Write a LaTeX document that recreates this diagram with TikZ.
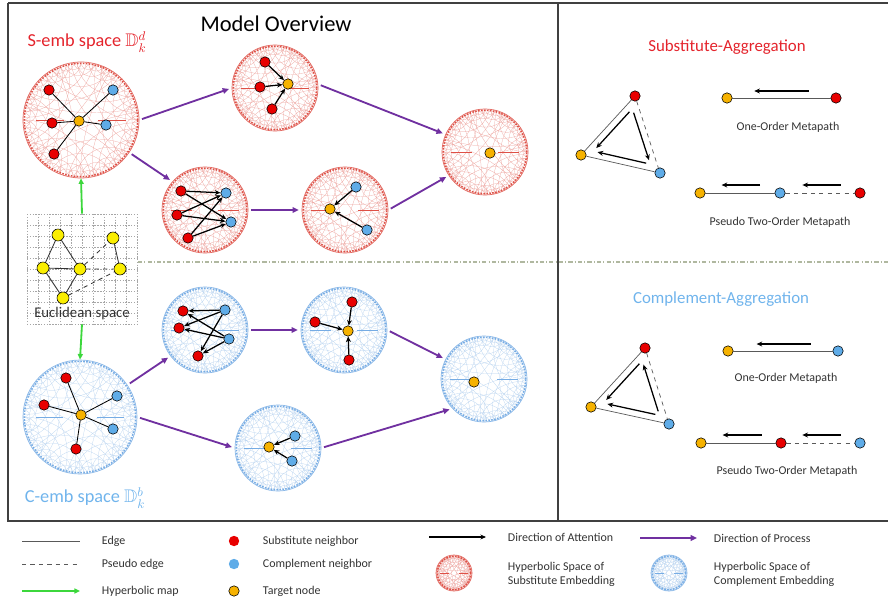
\documentclass[tikz,border=0pt]{standalone}
\usepackage{fontspec}
\usepackage{amssymb}
\usetikzlibrary{arrows.meta, calc}
\setmainfont{Carlito}

\definecolor{subred}{RGB}{232,0,0}
\definecolor{comblue}{RGB}{95,172,232}
\definecolor{tgtorange}{RGB}{246,178,0}
\definecolor{procpurple}{RGB}{112,48,160}
\definecolor{mapgreen}{RGB}{60,215,60}
\definecolor{sdisk}{RGB}{222,80,70}
\definecolor{cdisk}{RGB}{118,172,228}
\definecolor{stitle}{RGB}{228,36,44}
\definecolor{ctitle}{RGB}{112,180,236}
\definecolor{euyellow}{RGB}{250,238,0}
\definecolor{sepgray}{RGB}{176,184,160}

% one geodesic of the Poincare disk: radius, start angle, span
\newcommand{\geod}[3]{%
  \pgfmathsetmacro\hgM{#2+#3/2}%
  \pgfmathsetmacro\hgR{#1*tan(#3/2)}%
  \pgfmathsetmacro\hgS{\hgM+270-#3/2}%
  \pgfmathsetmacro\hgE{\hgS-180+#3}%
  \draw (#2:#1) arc[start angle=\hgS, end angle=\hgE, radius=\hgR];}

% hyperbolic disk: name, centre, radius, colour
\newcommand{\hypdisk}[4]{%
  \begin{scope}[shift={#2}, y=0.025cm, color=#4!55, line width=0.15pt]
    \fill[white] (0,0) circle[radius=#3];
    \foreach \k in {0,...,6}{\geod{#3}{\k*360/7+12}{150}}
    \foreach \k in {0,...,13}{\geod{#3}{\k*360/14}{100}\geod{#3}{\k*360/14+8}{60}}
    \foreach \k in {0,...,27}{\geod{#3}{\k*360/28}{30}}
    \foreach \k in {0,...,47}{\geod{#3}{\k*7.5}{15}}
    \draw[#4, densely dotted, line width=1.1pt] (0,0) circle[radius=#3-1.3];
    \draw[#4!85, line width=0.5pt] (0,0) circle[radius=#3];
    \draw[#4, line width=0.7pt] (-0.78*#3,0) -- (-0.3*#3,0) (0.3*#3,0) -- (0.78*#3,0);
  \end{scope}
  \node[circle, inner sep=0pt, minimum size=#3*0.05cm] (#1) at #2 {};}

\begin{document}
\begin{tikzpicture}[x=0.025cm, y=-0.025cm,
    sub/.style={circle, draw=black, fill=subred, line width=0.4pt, inner sep=0pt, minimum size=0.26cm},
    com/.style={sub, fill=comblue},
    tgt/.style={sub, fill=tgtorange},
    eu/.style={sub, fill=euyellow, minimum size=0.3cm},
    pline/.style={draw=black!65, line width=0.5pt},
    pdash/.style={pline, dashed},
    att/.style={-{Stealth[length=4pt, width=3.5pt]}, line width=0.9pt},
    proc/.style={-{Triangle[length=4.5pt, width=4pt]}, draw=procpurple, line width=1.3pt, shorten <=2pt, shorten >=2pt},
    hmap/.style={-{Triangle[length=4pt, width=3.5pt]}, draw=mapgreen, line width=1.3pt},
    lbl/.style={font=\fontsize{8.5}{10}\selectfont, text=black!80},
    legtxt/.style={lbl, anchor=west, align=left},
    gridln/.style={draw=black!35, line width=0.3pt, dash pattern=on 1pt off 1pt}
  ]
\useasboundingbox (0,0) rectangle (888,604);

% frame
\draw[black!75, line width=0.8pt] (8,3) -- (888,3) (8,3) -- (8,521) -- (888,521) (558,3) -- (558,521);
\draw[sepgray, line width=0.9pt, dash pattern=on 3pt off 1.5pt on 0.8pt off 1.5pt] (138,262) -- (888,262);

\node[font=\fontsize{16}{19}\selectfont] (title) at (276,24) {Model Overview};
\node[font=\fontsize{13}{15}\selectfont, text=stitle] (slabel) at (87,42) {S-emb space $\mathbb{D}_k^d$};
\node[font=\fontsize{13}{15}\selectfont, text=ctitle] (clabel) at (85,498) {C-emb space $\mathbb{D}_k^b$};

% substitute side
\hypdisk{S1}{(81,120)}{58}{sdisk}
\hypdisk{S2}{(275,88)}{43}{sdisk}
\hypdisk{S3}{(485,152)}{43}{sdisk}
\hypdisk{S4}{(205,210)}{43}{sdisk}
\hypdisk{S5}{(345,210)}{43}{sdisk}

\node[sub] (s1a) at (49,90) {};
\node[com] (s1b) at (113,90) {};
\node[sub] (s1c) at (52,123) {};
\node[tgt] (s1t) at (79,121) {};
\node[com] (s1d) at (106,125) {};
\node[sub] (s1e) at (54,154) {};
\foreach \n in {s1a,s1b,s1c,s1d,s1e} \draw[black, line width=0.6pt] (s1t) -- (\n);

\node[sub] (s2a) at (265,62) {};
\node[sub] (s2b) at (260,87) {};
\node[tgt] (s2t) at (288,84) {};
\node[sub] (s2c) at (272,109) {};
\foreach \n in {s2a,s2b,s2c} \draw[att] (\n) -- (s2t);

\node[tgt] (s3t) at (490,153) {};

\node[sub] (s4a) at (181,191) {};
\node[sub] (s4b) at (177,215) {};
\node[sub] (s4c) at (188,238) {};
\node[com] (s4d) at (226,193) {};
\node[com] (s4e) at (231,222) {};
\foreach \n in {s4a,s4b,s4c} \foreach \m in {s4d,s4e} \draw[att] (\n) -- (\m);

\node[tgt] (s5t) at (330,209) {};
\node[com] (s5a) at (356,187) {};
\node[com] (s5b) at (367,230) {};
\foreach \n in {s5a,s5b} \draw[att] (\n) -- (s5t);

\draw[proc] (S1.east) -- (S2.west);
\draw[proc] (S1.-34) -- (S4.139);
\draw[proc] (S2.5) -- (S3.156);
\draw[proc] (S4.east) -- (S5.west);
\draw[proc] (S5.east) -- (S3.213);

% complement side
\hypdisk{C1}{(80,417)}{57}{cdisk}
\hypdisk{C2}{(205,330)}{43}{cdisk}
\hypdisk{C3}{(344,330)}{43}{cdisk}
\hypdisk{C4}{(484,379)}{43}{cdisk}
\hypdisk{C5}{(278,448)}{43}{cdisk}

\node[sub] (c1a) at (66,378) {};
\node[sub] (c1b) at (44,405) {};
\node[tgt] (c1t) at (81,415) {};
\node[com] (c1c) at (117,396) {};
\node[com] (c1d) at (113,429) {};
\node[sub] (c1e) at (76,449) {};
\foreach \n in {c1a,c1b,c1c,c1d,c1e} \draw[black, line width=0.6pt] (c1t) -- (\n);

\node[sub] (c2a) at (183,311) {};
\node[sub] (c2b) at (179,328) {};
\node[sub] (c2c) at (198,356) {};
\node[com] (c2d) at (225,310) {};
\node[com] (c2e) at (229,339) {};
\foreach \n in {c2d,c2e} \foreach \m in {c2a,c2b,c2c} \draw[att] (\n) -- (\m);

\node[tgt] (c3t) at (348,331) {};
\node[sub] (c3a) at (352,302) {};
\node[sub] (c3b) at (315,322) {};
\node[sub] (c3c) at (349,360) {};
\foreach \n in {c3a,c3b,c3c} \draw[att] (\n) -- (c3t);

\node[tgt] (c4t) at (474,382) {};

\node[tgt] (c5t) at (269,447) {};
\node[com] (c5a) at (295,436) {};
\node[com] (c5b) at (292,461) {};
\foreach \n in {c5a,c5b} \draw[att] (\n) -- (c5t);

\draw[proc] (C1.34) -- (C2.217);
\draw[proc] (C1.east) -- (C5.west);
\draw[proc] (C2.east) -- (C3.west);
\draw[proc] (C3.east) -- (C4.153);
\draw[proc] (C5.east) -- (C4.223);

% euclidean space
\node[minimum width=2.75cm, minimum height=2.75cm, inner sep=0pt] (euc) at (82,269) {};
\foreach \i in {0,...,10}{
  \draw[gridln] (27+\i*11,214) -- (27+\i*11,324);
  \draw[gridln] (27,214+\i*11) -- (137,214+\i*11);
}
\node[eu] (e1) at (58,235) {};
\node[eu] (e2) at (113,238) {};
\node[eu] (e3) at (43,268) {};
\node[eu] (e4) at (80,269) {};
\node[eu] (e5) at (120,269) {};
\node[eu] (e6) at (63,298) {};
\draw[black!80, line width=0.6pt] (e1) -- (e3) (e1) -- (e4) (e3) -- (e4) (e3) -- (e6) (e4) -- (e6) (e2) -- (e5);
\draw[black!80, line width=0.6pt, dashed] (e4) -- (e2) (e4) -- (e5) (e6) -- (e5);
\node[font=\fontsize{10.5}{12}\selectfont, text=black!80] (eulbl) at (82,314) {Euclidean space};
\draw[hmap] (euc.north) -- (S1.south);
\draw[hmap] (euc.south) -- (C1.north);

% substitute aggregation
\node[font=\fontsize{12}{14}\selectfont, text=stitle] (saggr) at (727,47) {Substitute-Aggregation};
\node[sub] (r1) at (635,96) {};
\node[tgt] (o1) at (581,155) {};
\node[com] (b1) at (660,173) {};
\draw[pline] (r1) -- (o1) -- (b1);
\draw[pdash] (r1) -- (b1);
\coordinate (g1) at ($0.3333*(r1)+0.3333*(o1)+0.3334*(b1)$);
\draw[att, shorten <=3pt, shorten >=3pt] ($(g1)!0.72!(r1)$) -- ($(g1)!0.72!(o1)$);
\draw[att, shorten <=3pt, shorten >=3pt] ($(g1)!0.72!(r1)$) -- ($(g1)!0.72!(b1)$);
\draw[att, shorten <=3pt, shorten >=3pt] ($(g1)!0.72!(b1)$) -- ($(g1)!0.72!(o1)$);

\node[tgt] (o2) at (727,98) {};
\node[sub] (r2) at (836,98) {};
\draw[pline] (o2) -- (r2);
\draw[att] ($(o2)!0.75!(r2)+(0,-7)$) -- ($(o2)!0.25!(r2)+(0,-7)$);
\node[lbl] (m1) at (788,127) {One-Order Metapath};

\node[tgt] (o3) at (700,193) {};
\node[com] (b3) at (780,193) {};
\node[sub] (r3) at (860,193) {};
\draw[pline] (o3) -- (b3);
\draw[pdash] (b3) -- (r3);
\draw[att] ($(o3)!0.75!(b3)+(0,-8)$) -- ($(o3)!0.27!(b3)+(0,-8)$);
\draw[att] ($(b3)!0.76!(r3)+(0,-8)$) -- ($(b3)!0.28!(r3)+(0,-8)$);
\node[lbl] (m2) at (780,222) {Pseudo Two-Order Metapath};

% complement aggregation
\node[font=\fontsize{12}{14}\selectfont, text=ctitle] (caggr) at (721,299) {Complement-Aggregation};
\node[sub] (r4) at (645,348) {};
\node[tgt] (o4) at (591,407) {};
\node[com] (b4) at (669,424) {};
\draw[pline] (r4) -- (o4) -- (b4);
\draw[pdash] (r4) -- (b4);
\coordinate (g4) at ($0.3333*(r4)+0.3333*(o4)+0.3334*(b4)$);
\draw[att, shorten <=3pt, shorten >=3pt] ($(g4)!0.72!(r4)$) -- ($(g4)!0.72!(o4)$);
\draw[att, shorten <=3pt, shorten >=3pt] ($(g4)!0.72!(b4)$) -- ($(g4)!0.72!(r4)$);
\draw[att, shorten <=3pt, shorten >=3pt] ($(g4)!0.72!(b4)$) -- ($(g4)!0.72!(o4)$);

\node[tgt] (o5) at (728,351) {};
\node[com] (b5) at (838,351) {};
\draw[pline] (o5) -- (b5);
\draw[att] ($(o5)!0.75!(b5)+(0,-7)$) -- ($(o5)!0.26!(b5)+(0,-7)$);
\node[lbl] (m3) at (786,378) {One-Order Metapath};

\node[tgt] (o6) at (701,443) {};
\node[sub] (r6) at (781,443) {};
\node[com] (b6) at (860,443) {};
\draw[pline] (o6) -- (r6);
\draw[pdash] (r6) -- (b6);
\draw[att] ($(o6)!0.76!(r6)+(0,-8)$) -- ($(o6)!0.27!(r6)+(0,-8)$);
\draw[att] ($(r6)!0.76!(b6)+(0,-8)$) -- ($(r6)!0.27!(b6)+(0,-8)$);
\node[lbl] (m4) at (787,471) {Pseudo Two-Order Metapath};

% legend
\coordinate (le1) at (22,541); \coordinate (le2) at (80,541);
\coordinate (le3) at (22,564); \coordinate (le4) at (80,564);
\coordinate (le5) at (22,591); \coordinate (le6) at (80,591);
\draw[pline] (le1) -- (le2);
\draw[pdash] (le3) -- (le4);
\draw[hmap] (le5) -- (le6);
\node[legtxt] (t1) at (97,541) {Edge};
\node[legtxt] (t2) at (97,564) {Pseudo edge};
\node[legtxt] (t3) at (97,591) {Hyperbolic map};
\node[sub, draw=none] (d1) at (234,541) {};
\node[com, draw=none] (d2) at (234,564) {};
\node[tgt] (d3) at (234,591) {};
\node[legtxt] (t4) at (258,541) {Substitute neighbor};
\node[legtxt] (t5) at (258,564) {Complement neighbor};
\node[legtxt] (t6) at (258,591) {Target node};
\coordinate (la1) at (429,537); \coordinate (la2) at (486,537);
\coordinate (lp1) at (640,538); \coordinate (lp2) at (697,538);
\draw[att] (la1) -- (la2);
\draw[proc, shorten <=0pt, shorten >=0pt] (lp1) -- (lp2);
\node[legtxt] (t7) at (503,537) {Direction of Attention};
\node[legtxt] (t8) at (709,538) {Direction of Process};
\hypdisk{LS}{(454,573)}{18}{sdisk}
\hypdisk{LC}{(669,573)}{18}{cdisk}
\node[legtxt] (t9) at (503,574) {Hyperbolic Space of\\Substitute Embedding};
\node[legtxt] (t10) at (709,574) {Hyperbolic Space of\\Complement Embedding};
\end{tikzpicture}
\end{document}
